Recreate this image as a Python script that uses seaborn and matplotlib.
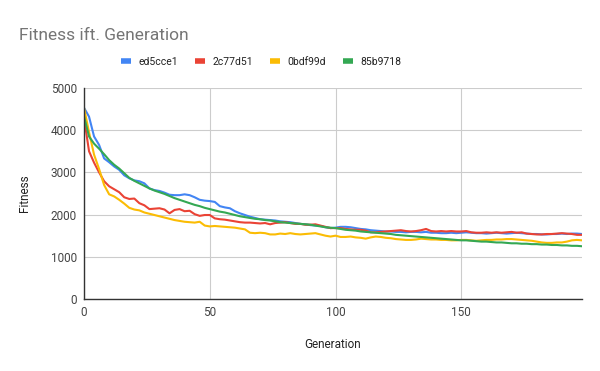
import numpy as np
import pandas as pd
import seaborn as sns
import matplotlib.pyplot as plt

# generations sampled every 2 steps
generations = list(range(0, 200, 2))

ed5cce1 = [4530, 4320, 3850, 3650, 3330, 3240, 3140, 3060, 2930, 2860,
           2810, 2790, 2740, 2620, 2580, 2560, 2520, 2470, 2460, 2460,
           2480, 2460, 2410, 2350, 2330, 2320, 2300, 2200, 2170, 2150,
           2080, 2030, 1990, 1950, 1920, 1890, 1880, 1870, 1860, 1840,
           1830, 1820, 1800, 1780, 1770, 1750, 1740, 1730, 1700, 1680,
           1690, 1710, 1710, 1700, 1680, 1660, 1650, 1630, 1620, 1610,
           1600, 1600, 1590, 1590, 1580, 1590, 1590, 1580, 1590, 1570,
           1570, 1560, 1560, 1570, 1560, 1570, 1580, 1570, 1560, 1560,
           1550, 1560, 1570, 1560, 1550, 1560, 1570, 1560, 1550, 1540,
           1540, 1530, 1530, 1540, 1540, 1550, 1540, 1550, 1550, 1540]

c2c77d51 = [4300, 3500, 3230, 3000, 2790, 2670, 2600, 2530, 2410, 2370,
            2380, 2270, 2220, 2130, 2140, 2150, 2120, 2030, 2110, 2130,
            2080, 2090, 2010, 1970, 1990, 1990, 1910, 1890, 1880, 1860,
            1840, 1820, 1810, 1810, 1800, 1790, 1800, 1770, 1800, 1810,
            1820, 1800, 1780, 1780, 1760, 1760, 1770, 1740, 1710, 1680,
            1680, 1680, 1660, 1650, 1640, 1640, 1620, 1580, 1580, 1590,
            1600, 1610, 1620, 1630, 1610, 1600, 1610, 1630, 1660, 1610,
            1600, 1610, 1600, 1610, 1600, 1600, 1610, 1580, 1570, 1570,
            1580, 1570, 1580, 1570, 1580, 1590, 1570, 1580, 1550, 1540,
            1530, 1530, 1540, 1540, 1550, 1560, 1550, 1540, 1520, 1520]

c0bdf99d = [4530, 3950, 3420, 3080, 2700, 2480, 2430, 2350, 2260, 2160,
            2120, 2100, 2050, 2020, 1990, 1960, 1930, 1900, 1870, 1850,
            1830, 1820, 1810, 1830, 1740, 1720, 1730, 1720, 1710, 1700,
            1690, 1670, 1650, 1570, 1560, 1570, 1560, 1530, 1530, 1550,
            1540, 1560, 1540, 1530, 1540, 1550, 1560, 1530, 1500, 1480,
            1500, 1470, 1470, 1480, 1460, 1450, 1430, 1460, 1480, 1470,
            1450, 1440, 1420, 1410, 1400, 1400, 1410, 1430, 1420, 1410,
            1410, 1400, 1400, 1390, 1390, 1400, 1400, 1390, 1380, 1390,
            1400, 1400, 1410, 1410, 1420, 1420, 1410, 1400, 1390, 1380,
            1360, 1340, 1330, 1330, 1340, 1340, 1360, 1390, 1400, 1390]

c85b9718 = [4330, 3850, 3680, 3560, 3430, 3290, 3180, 3090, 2980, 2870,
            2800, 2740, 2680, 2620, 2570, 2530, 2490, 2440, 2390, 2350,
            2310, 2270, 2230, 2200, 2160, 2130, 2100, 2070, 2050, 2020,
            1990, 1960, 1940, 1920, 1900, 1890, 1870, 1860, 1840, 1820,
            1810, 1800, 1790, 1780, 1770, 1760, 1740, 1720, 1700, 1690,
            1680, 1660, 1640, 1630, 1620, 1600, 1590, 1580, 1570, 1560,
            1550, 1540, 1520, 1510, 1500, 1490, 1480, 1470, 1460, 1450,
            1440, 1430, 1420, 1410, 1400, 1390, 1390, 1380, 1370, 1360,
            1360, 1350, 1340, 1340, 1330, 1320, 1320, 1310, 1310, 1300,
            1300, 1290, 1290, 1280, 1280, 1270, 1270, 1260, 1260, 1250]

series_names = ['ed5cce1', '2c77d51', '0bdf99d', '85b9718']
colors = ['#4285F4', '#EA4335', '#FBBC04', '#34A853']

df = pd.DataFrame({
    'Generation': generations * 4,
    'Fitness': ed5cce1 + c2c77d51 + c0bdf99d + c85b9718,
    'Run': np.repeat(series_names, len(generations)),
})

sns.set_style('white')
plt.rcParams['font.family'] = ['Roboto', 'DejaVu Sans']

fig = plt.figure(figsize=(6, 3.71), dpi=100)
ax = fig.add_axes([0.14, 0.194, 0.83, 0.569])

sns.lineplot(data=df, x='Generation', y='Fitness', hue='Run',
             hue_order=series_names, palette=colors, linewidth=1.5,
             legend=False, ax=ax)

ax.set_xlim(0, 198)
ax.set_ylim(0, 5000)
ax.set_xticks([0, 50, 100, 150])
ax.set_yticks([0, 1000, 2000, 3000, 4000, 5000])
ax.grid(True, color='#cccccc', linewidth=0.8)
ax.set_axisbelow(True)
for side in ['top', 'right']:
    ax.spines[side].set_visible(False)
for side in ['left', 'bottom']:
    ax.spines[side].set_color('#333333')
    ax.spines[side].set_linewidth(1.0)
ax.tick_params(length=0, labelsize=8.5, colors='#444444', pad=5)
ax.set_xlabel('Generation', fontsize=8.5, color='#222222', labelpad=14)
ax.set_ylabel('Fitness', fontsize=8.5, color='#222222', labelpad=14)

fig.text(0.031, 0.905, 'Fitness ift. Generation', fontsize=12.5,
         color='#757575', va='center', ha='left')

handles = [plt.Line2D([], [], color=c, linewidth=4, solid_capstyle='butt')
           for c in colors]
fig.legend(handles, series_names, loc='center', ncol=4,
           bbox_to_anchor=(261 / 600, 1 - 62 / 371), frameon=False,
           fontsize=7.5, handlelength=1.0, handletextpad=0.7,
           columnspacing=1.6, labelcolor='#222222')

fig.savefig('out.png', dpi=100)
